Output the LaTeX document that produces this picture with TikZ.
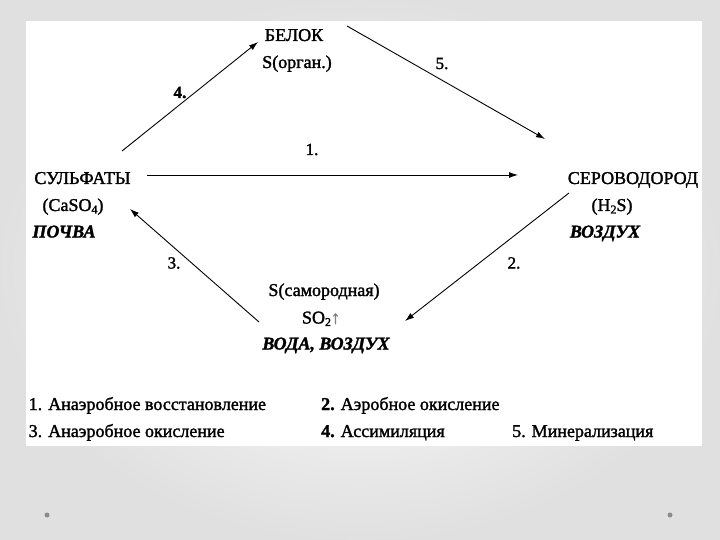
\documentclass[tikz,border=0pt]{standalone}
\usepackage{fontspec}
\setmainfont[FakeBold=1.6]{Liberation Serif}
\usetikzlibrary{arrows.meta}
\newcommand{\subs}[1]{\raisebox{-0.3ex}{\fontsize{12}{12}\selectfont #1}}
\begin{document}
\begin{tikzpicture}[x=1pt,y=-1pt,
  lbl/.style={font=\fontsize{18}{20}\selectfont, inner sep=0pt, anchor=base},
  place/.style={font=\fontsize{18}{20}\selectfont\bfseries\itshape, inner sep=0pt, anchor=base},
  num/.style={font=\fontsize{17}{19}\selectfont, inner sep=0pt, anchor=base},
  leg/.style={font=\fontsize{18}{20}\selectfont, inner sep=0pt, anchor=base west},
  arr/.style={-{Latex[length=9pt,width=6pt]}, line width=0.9pt},
  dot/.style={circle, fill=black!45, inner sep=0pt, minimum size=5pt}]
\useasboundingbox (0,0) rectangle (720,540);
\shade[inner color=white, outer color=black!12] (0,0) rectangle (720,540);
\fill[white] (26,21) rectangle (702,446);

% top
\node[lbl] (belok) at (294,41) {БЕЛОК};
\node[lbl] (sorg) at (297,68) {S(орган.)};
% left
\node[lbl] (sulf) at (82.5,184) {СУЛЬФАТЫ};
\node[lbl] (caso) at (73,211) {(CaSO\subs{4})};
\node[place] (pochva) at (64,237.5) {ПОЧВА};
% right
\node[lbl] (serov) at (633,184) {СЕРОВОДОРОД};
\node[lbl] (hs) at (612,211) {(H\subs{2}S)};
\node[place] (vozd) at (605,237.5) {ВОЗДУХ};
% bottom
\node[lbl] (samor) at (324,296) {S(самородная)};
\node[lbl] (so) at (321,323.5) {SO\subs{2}{\color{black!50}↑}};
\node[place] (voda) at (326,349.5) {ВОДА, ВОЗДУХ};

% arrow end points
\coordinate (a4s) at (122,151);
\coordinate (a4e) at (258,42);
\coordinate (a5s) at (347,26);
\coordinate (a5e) at (545,139);
\coordinate (a1s) at (147,175);
\coordinate (a1e) at (518,175);
\coordinate (a2s) at (569,193);
\coordinate (a2e) at (405,321);
\coordinate (a3s) at (259,322);
\coordinate (a3e) at (130,209);

\draw[arr] (a4s) -- (a4e);
\draw[arr] (a5s) -- (a5e);
\draw[arr] (a1s) -- (a1e);
\draw[arr] (a2s) -- (a2e);
\draw[arr] (a3s) -- (a3e);

\node[num, font=\fontsize{17}{19}\selectfont\bfseries] (n4) at (180,98) {4.};
\node[num] (n5) at (442,69) {5.};
\node[num] (n1) at (312,155) {1.};
\node[num] (n3) at (174,268.5) {3.};
\node[num] (n2) at (514,268.5) {2.};

% legend
\node[leg] (l1) at (28.5,410) {1. Анаэробное восстановление};
\node[leg] (l2) at (321,410) {\textbf{2.} Аэробное окисление};
\node[leg] (l3) at (28.5,437) {3. Анаэробное окисление};
\node[leg] (l4) at (321,437) {\textbf{4.} Ассимиляция};
\node[leg] (l5) at (512,437) {5. Минерализация};

\node[dot] (d1) at (47,515) {};
\node[dot] (d2) at (670,515) {};
\end{tikzpicture}
\end{document}
